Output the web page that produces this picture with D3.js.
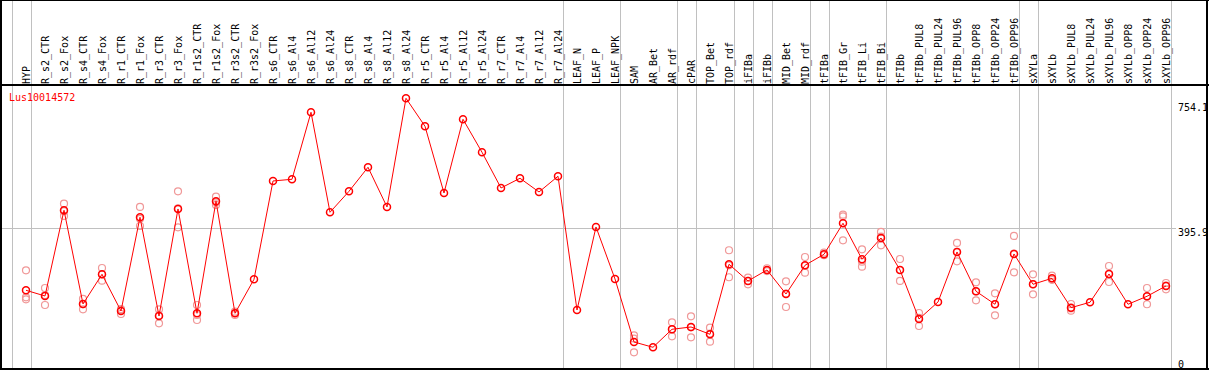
<!DOCTYPE html>
<head><style>body { margin: 0; background: #fff; } svg { display: block; }</style></head>
<body>
    <div class="container"></div>
    <script src="https://d3js.org/d3.v7.min.js"></script>
    <script>
        var gene = 'Lus10014572';

        var samples = ['HYP', 'R_s2_CTR', 'R_s2_Fox', 'R_s4_CTR', 'R_s4_Fox', 'R_r1_CTR', 'R_r1_Fox',
            'R_r3_CTR', 'R_r3_Fox', 'R_r1s2_CTR', 'R_r1s2_Fox', 'R_r3s2_CTR', 'R_r3s2_Fox',
            'R_s6_CTR', 'R_s6_Al4', 'R_s6_Al12', 'R_s6_Al24', 'R_s8_CTR', 'R_s8_Al4', 'R_s8_Al12',
            'R_s8_Al24', 'R_r5_CTR', 'R_r5_Al4', 'R_r5_Al12', 'R_r5_Al24', 'R_r7_CTR', 'R_r7_Al4',
            'R_r7_Al12', 'R_r7_Al24', 'LEAF_N', 'LEAF_P', 'LEAF_NPK', 'SAM', 'AR_Bet', 'AR_rdf',
            'cPAR', 'TOP_Bet', 'TOP_rdf', 'iFIBa', 'iFIBb', 'MID_Bet', 'MID_rdf', 'tFIBa',
            'tFIB_Gr', 'tFIB_Li', 'tFIB_Bi', 'tFIBb', 'tFIBb_PUL8', 'tFIBb_PUL24', 'tFIBb_PUL96',
            'tFIBb_OPP8', 'tFIBb_OPP24', 'tFIBb_OPP96', 'sXYLa', 'sXYLb', 'sXYLb_PUL8',
            'sXYLb_PUL24', 'sXYLb_PUL96', 'sXYLb_OPP8', 'sXYLb_OPP24', 'sXYLb_OPP96'];

        // number of samples in each group, separated by grey lines
        var groupSizes = [1, 28, 3, 3, 1, 2, 1, 1, 2, 1, 3, 7, 1, 7];

        var means = [225.1, 209.4, 445.6, 187.4, 269.2, 168.1, 426.3,
            154.3, 449.2, 161.8, 470.4, 161.8, 255.4,
            526.3, 531.0, 715.6, 440.1, 497.9, 564.1, 454.7,
            754.1, 677.0, 493.2, 696.3, 605.4, 507.0, 533.8,
            496.0, 539.3, 170.8, 399.6, 256.3, 82.7, 68.1, 117.7,
            124.0, 103.9, 296.8, 250.8, 281.1, 214.9, 294.0, 324.3,
            409.8, 310.6, 369.2, 281.1, 146.0, 192.9, 330.7,
            222.4, 186.6, 325.2, 241.7, 258.2, 177.2,
            192.1, 270.0, 186.6, 208.6, 237.0];

        var replicates = [[280.2, 205.8, 200.3], [231.5, 184.6, 212], [463.8, 429.9, 443],
            [201.2, 172.8, 187], [286.6, 251.6, 269], [170.8, 159.8, 173], [454.7, 402.3, 422],
            [172.8, 134.2, 156], [497.9, 398.7, 451], [184.6, 143.3, 157], [483.1, 460.2, 468],
            [166.2, 157.1, 162], [],
            [], [], [], [], [], [], [],
            [], [], [], [], [], [], [],
            [], [], [], [], [], [101.1, 54.3, 92], [], [137.0, 98.4, 118],
            [153.5, 95.6, 123], [122.1, 83.5, 106], [335.4, 261.0, 294], [259.9, 241.7, 251],
            [285.8, 280, 278], [249.9, 179.1, 216], [316.9, 273.6, 292], [328.7, 322, 323],
            [433.5, 429, 362.9], [338.1, 290.2, 304], [385.8, 349.1, 373], [311.4, 250.8, 281],
            [162.6, 126.8, 149], [], [355.5, 305.0, 331],
            [247.2, 197.6, 222], [216.9, 156.2, 187], [374.8, 274.7, 326], [269.2, 214.1, 242],
            [265.4, 255, 254], [187.4, 168.9, 175],
            [], [292.1, 248.0, 270], [], [231.5, 186.6, 208], [245.2, 227.9, 238]];

        var yTicks = [0, 395.9, 754.1];

        var width = 1209, height = 370;
        var headerBottom = 85;

        var svg = d3.select('.container')
                    .append('svg')
                    .attr('width', width)
                    .attr('height', height)
                    .style('font-family', '"DejaVu Sans Mono", monospace')
                    .style('font-size', '10px');

        var x = d3.scalePoint()
                  .domain(samples)
                  .range([26, 1166]);
        var step = x.step();

        var y = d3.scaleLinear()
                  .domain([0, 754.1])
                  .range([372, 98.3]);

        // grey separators between groups
        var bounds = [-1];
        var acc = -1;
        groupSizes.forEach(function(n) { acc += n; bounds.push(acc); });
        svg.append('g')
           .selectAll('line')
           .data(bounds)
           .enter().append('line')
           .attr('x1', function(i) { return Math.round(x(samples[0]) + i * step + 4.5) + 0.5; })
           .attr('x2', function(i) { return Math.round(x(samples[0]) + i * step + 4.5) + 0.5; })
           .attr('y1', 0)
           .attr('y2', height)
           .attr('stroke', '#c0c0c0')
           .attr('stroke-width', 1);

        // horizontal grid at middle tick
        svg.append('line')
           .attr('x1', 0)
           .attr('x2', 1176)
           .attr('y1', Math.round(y(yTicks[1])) + 0.5)
           .attr('y2', Math.round(y(yTicks[1])) + 0.5)
           .attr('stroke', '#c0c0c0');

        // sample labels
        svg.append('g')
           .selectAll('text')
           .data(samples)
           .enter().append('text')
           .attr('transform', function(d) { return 'translate(' + x(d) + ',' + 84 + ') rotate(-90)'; })
           .attr('dy', '0.35em')
           .attr('fill', '#000')
           .text(function(d) { return d; });

        // y tick labels on the right
        svg.append('g')
           .selectAll('text')
           .data(yTicks)
           .enter().append('text')
           .attr('x', 1178)
           .attr('y', function(d) { return Math.max(103, Math.min(360, y(d))); })
           .attr('dy', '0.78em')
           .attr('fill', '#000')
           .text(function(d) { return d; });

        svg.append('text')
           .attr('x', 9)
           .attr('y', 101)
           .attr('fill', '#ff0000')
           .text(gene);

        // replicate points
        var reps = [];
        replicates.forEach(function(r, i) {
            r.forEach(function(v) { reps.push({ s: samples[i], v: v }); });
        });
        svg.append('g')
           .selectAll('circle')
           .data(reps)
           .enter().append('circle')
           .attr('cx', function(d) { return x(d.s); })
           .attr('cy', function(d) { return y(d.v); })
           .attr('r', 3.5)
           .attr('fill', 'none')
           .attr('stroke', '#f09898')
           .attr('stroke-width', 1.2);

        var line = d3.line()
                     .x(function(d, i) { return x(samples[i]); })
                     .y(function(d) { return y(d); });
        svg.append('path')
           .datum(means)
           .attr('d', line)
           .attr('fill', 'none')
           .attr('stroke', '#ff0000')
           .attr('stroke-width', 1);

        svg.append('g')
           .selectAll('circle')
           .data(means)
           .enter().append('circle')
           .attr('cx', function(d, i) { return x(samples[i]); })
           .attr('cy', function(d) { return y(d); })
           .attr('r', 3.5)
           .attr('fill', 'none')
           .attr('stroke', '#ff0000')
           .attr('stroke-width', 1.5);

        // frame
        var frame = svg.append('g').attr('stroke', '#000').attr('fill', 'none');
        frame.append('line').attr('x1', 0).attr('x2', width).attr('y1', 0.5).attr('y2', 0.5);
        frame.append('line').attr('x1', 0).attr('x2', width).attr('y1', headerBottom).attr('y2', headerBottom).attr('stroke-width', 2);
        frame.append('line').attr('x1', 0).attr('x2', width).attr('y1', 369).attr('y2', 369).attr('stroke-width', 2);
        frame.append('line').attr('x1', 1).attr('x2', 1).attr('y1', 0).attr('y2', height).attr('stroke-width', 2);
        frame.append('line').attr('x1', 1207).attr('x2', 1207).attr('y1', 0).attr('y2', height).attr('stroke-width', 2);
    </script>
</body>
